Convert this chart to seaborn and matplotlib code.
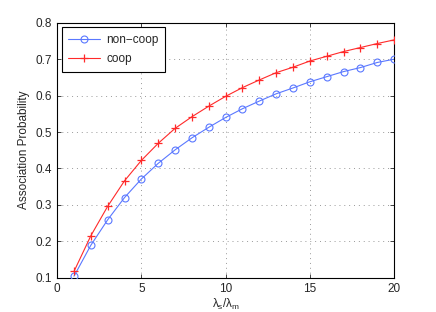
import matplotlib
matplotlib.use("Agg")
import matplotlib.pyplot as plt
import seaborn as sns

# --- DATOS ---
ratio = list(range(1, 21))
non_coop = [0.104, 0.189, 0.259, 0.320, 0.371, 0.414, 0.451, 0.484, 0.513, 0.540,
            0.564, 0.585, 0.605, 0.621, 0.638, 0.652, 0.666, 0.677, 0.691, 0.700]
coop = [0.117, 0.215, 0.296, 0.366, 0.422, 0.469, 0.510, 0.542, 0.571, 0.598,
        0.622, 0.643, 0.663, 0.678, 0.695, 0.708, 0.721, 0.732, 0.743, 0.753]
series_names = ["non\u2212coop", "coop"]
x_ticks = [0, 5, 10, 15, 20]
y_ticks = [0.1, 0.2, 0.3, 0.4, 0.5, 0.6, 0.7, 0.8]

sns.set_style("white")
plt.rcParams["font.family"] = ["Liberation Sans", "DejaVu Sans"]
plt.rcParams["mathtext.fontset"] = "custom"
plt.rcParams["mathtext.rm"] = "Liberation Sans"
plt.rcParams["mathtext.it"] = "Liberation Sans"

fig = plt.figure(figsize=(4.36, 3.12), dpi=100)
ax = fig.add_axes([0.131, 0.11, 0.773, 0.817])

# cada serie por separado (seaborn no mezcla 'o' y '+')
sns.lineplot(x=ratio, y=non_coop, color="#5a78ff", marker="o", linewidth=0.8,
             markersize=5, markerfacecolor="none", markeredgecolor="#5a78ff",
             markeredgewidth=0.8, label=series_names[0], ax=ax, zorder=3)
sns.lineplot(x=ratio, y=coop, color="#ff2a2a", marker="+", linewidth=0.8,
             markersize=6, markeredgecolor="#ff2a2a", markeredgewidth=0.9,
             label=series_names[1], ax=ax, zorder=3)

ax.set_xlim(0, 20)
ax.set_ylim(0.1, 0.8)
ax.set_xticks(x_ticks)
ax.set_yticks(y_ticks)
ax.set_yticklabels([f"{v:.1f}" for v in y_ticks])
ax.tick_params(direction="in", length=3, labelsize=8.5, top=True, right=True,
               bottom=True, left=True, width=0.6)
ax.grid(True, linestyle=(0, (1, 4)), color="#999999", linewidth=0.7)
for s in ax.spines.values():
    s.set_linewidth(0.8)
    s.set_color("black")

ax.set_xlabel(r"$\lambda_s/\lambda_m$", fontsize=8.5, labelpad=2)
ax.set_ylabel("Association Probability", fontsize=8.5, labelpad=4)

leg = ax.legend(loc="upper left", fontsize=8.5, frameon=True, fancybox=False,
                edgecolor="black", borderaxespad=0.4, handlelength=2.7,
                labelspacing=0.6, borderpad=0.55, handletextpad=0.5)
leg.get_frame().set_linewidth(0.8)
leg.get_frame().set_alpha(1)

fig.savefig("out.png", dpi=100)
